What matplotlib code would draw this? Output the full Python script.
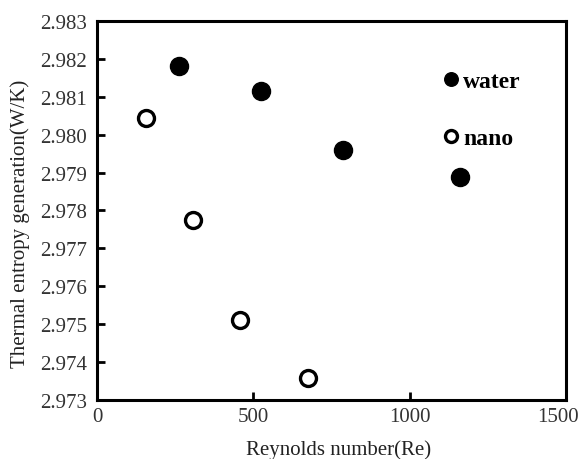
import matplotlib
matplotlib.use("Agg")
import matplotlib.pyplot as plt
from matplotlib.transforms import ScaledTranslation

plt.rcParams["font.family"] = ["Liberation Serif", "DejaVu Serif"]

# Reynolds number vs. thermal entropy generation
re_water = [263, 524, 788, 1161]
s_water = [2.98182, 2.98116, 2.97960, 2.97889]

re_nano = [156, 306, 457, 676]
s_nano = [2.98043, 2.97774, 2.97510, 2.97359]

x_ticks = [0, 500, 1000, 1500]
y_ticks = [2.973, 2.974, 2.975, 2.976, 2.977, 2.978, 2.979, 2.980, 2.981, 2.982, 2.983]

fig = plt.figure(figsize=(5.81, 4.60), dpi=100)
ax = fig.add_axes([97 / 581, 1 - 401 / 460, 469 / 581, 379 / 460])

ax.plot(re_water, s_water, "o", color="black", markersize=13, label="water")
ax.plot(re_nano, s_nano, "o", markerfacecolor="white", markeredgecolor="black",
        markeredgewidth=2.4, markersize=11.5, label="nano")

ax.set_xlim(0, 1500)
ax.set_ylim(2.973, 2.983)
ax.set_xticks(x_ticks)
ax.set_yticks(y_ticks)
ax.set_yticklabels([f"{v:.3f}" for v in y_ticks])

for side in ax.spines.values():
    side.set_linewidth(2.2)
ax.tick_params(direction="in", length=6, width=2, labelsize=15, colors="black",
               top=False, right=False, pad=5)
ax.tick_params(axis="x", labelcolor="#333333")
ax.tick_params(axis="y", labelcolor="#333333", pad=7)

# keep the last x label inside the figure
last = ax.get_xticklabels()[-1]
last.set_transform(last.get_transform() + ScaledTranslation(-8 / 100, 0, fig.dpi_scale_trans))

ax.set_xlabel("Reynolds number(Re)", fontsize=15, color="#222222")
ax.set_ylabel("Thermal entropy generation(W/K)", fontsize=15, color="#222222")
ax.xaxis.set_label_coords(0.516, -0.103)
ax.yaxis.set_label_coords(-0.143, 0.467)

leg = ax.legend(loc="upper left", bbox_to_anchor=(0.685, 0.926), frameon=False,
                handletextpad=0.0, labelspacing=1.5, markerscale=0.75,
                handlelength=1.0, prop={"weight": "bold", "size": 17})

fig.savefig("out.png", dpi=100)
